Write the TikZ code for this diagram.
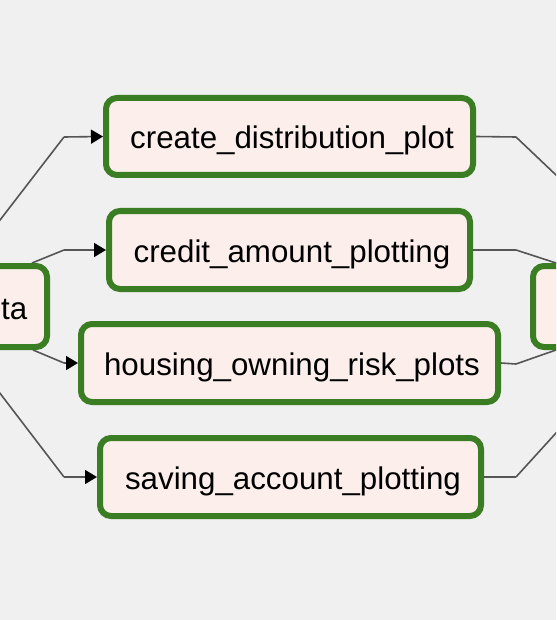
\documentclass[tikz,border=0pt]{standalone}
\usepackage{fontspec}
\setmainfont{Liberation Sans}
\usetikzlibrary{arrows.meta,calc}
\definecolor{bgc}{HTML}{F0F0F0}
\definecolor{boxfill}{HTML}{FCEFEB}
\definecolor{boxline}{HTML}{3A7D22}
\definecolor{edgec}{HTML}{555555}
\newcommand{\pad}{\hspace*{5pt}}
\tikzset{
  task/.style={draw=boxline, fill=boxfill, line width=6pt, rounded corners=11pt,
    rectangle, inner sep=0pt, text height=30pt, text depth=5pt,
    font=\fontsize{31.3}{37}\selectfont, text=black},
  edge/.style={draw=edgec, line width=1.6pt},
  arr/.style={edge, -{Triangle[length=12pt,width=14pt,color=black,fill=black]}},
}
\begin{document}
\begin{tikzpicture}[x=1pt,y=-1pt]
\useasboundingbox (0,0) rectangle (556,620);
\fill[bgc] (0,0) rectangle (556,620);
\clip (0,0) rectangle (556,620);
% coordinates of edge ends
\coordinate (s1) at (-30,259);
\coordinate (s2) at (32,263);
\coordinate (s3) at (33,350);
\coordinate (s4) at (-30,354);
\coordinate (k1) at (64,137);
\coordinate (k2) at (64,250);
\coordinate (k3) at (64,363);
\coordinate (k4) at (64,477);
\coordinate (m1) at (516,137);
\coordinate (m2) at (516,250);
\coordinate (m3) at (516,364);
\coordinate (m4) at (516,477);
\coordinate (e1) at (596,213);
\coordinate (e2) at (596,276);
\coordinate (e3) at (596,336);
\coordinate (e4) at (596,389);
% edges first (nodes drawn over them)
\draw[edge] (m1) -- (e1);
\draw[edge] (m2) -- (e2);
\draw[edge] (m3) -- (e3);
\draw[edge] (m4) -- (e4);
\draw[edge] (s1) -- (k1);
\draw[edge] (s2) -- (k2);
\draw[edge] (s3) -- (k3);
\draw[edge] (s4) -- (k4);
% nodes
\node[task, minimum width=367pt, minimum height=77pt] (a) at (289.5,136.5) {\pad create\_distribution\_plot};
\node[task, minimum width=361pt, minimum height=78pt] (b) at (289.5,250) {\pad credit\_amount\_plotting};
\node[task, minimum width=417pt, minimum height=78pt] (c) at (289.5,363) {\pad housing\_owning\_risk\_plots};
\node[task, minimum width=381pt, minimum height=78pt] (d) at (290.5,477) {\pad saving\_account\_plotting};
\node[task, minimum width=104pt, minimum height=81pt] (L) at (-5,306.5) {};
\node[task, minimum width=104pt, minimum height=81pt] (R) at (585,306.5) {};
\node[font=\fontsize{31.3}{37}\selectfont, anchor=base east, inner sep=0pt] (Lt) at (27.5,319) {ta};
% connectors to and from the task boxes
\draw[arr] (k1) -- (a.west);
\draw[arr] (k2) -- (b.west);
\draw[arr] (k3) -- (c.west);
\draw[arr] (k4) -- (d.west);
\draw[edge] (a.east) -- (m1);
\draw[edge] (b.east) -- (m2);
\draw[edge] (c.east) -- (m3);
\draw[edge] (d.east) -- (m4);
\end{tikzpicture}
\end{document}
